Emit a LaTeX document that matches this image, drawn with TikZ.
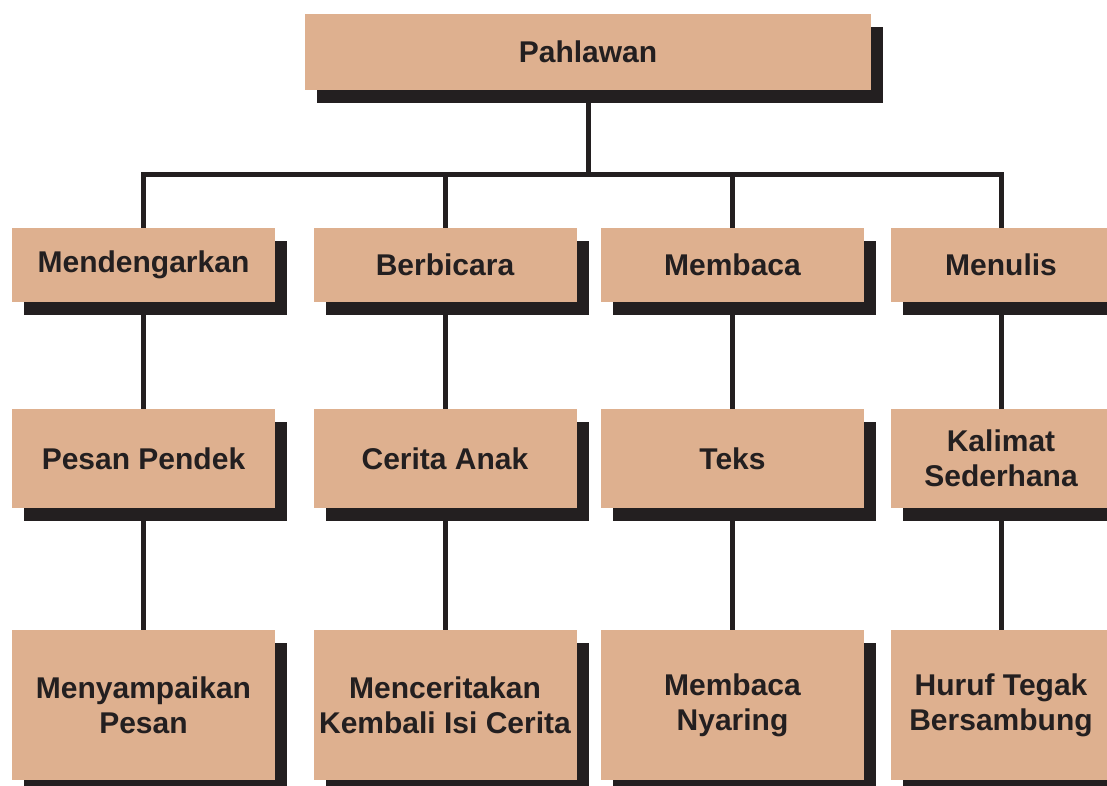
\documentclass[tikz,border=0pt]{standalone}
\usepackage{fontspec}
\setmainfont{Liberation Sans}
\usepackage{xcolor}
\usepackage{tikz}
\usetikzlibrary{shadows}
\definecolor{boxtan}{RGB}{222,176,143}
\definecolor{inkblack}{RGB}{35,31,32}

\begin{document}
\begin{tikzpicture}[x=1pt,y=-1pt,
    box/.style={fill=boxtan, text=inkblack, minimum width=263pt, inner sep=0pt, align=center,
        font=\fontsize{30}{35}\selectfont\bfseries,
        drop shadow={shadow xshift=12pt, shadow yshift=-13pt, fill=inkblack, opacity=1}},
    link/.style={draw=inkblack, line width=5pt, line join=miter}]
    \useasboundingbox (0,0) rectangle (1107,786);

    % Top
    \node [box, minimum width=566pt, minimum height=76pt] (top) at (588,52) {Pahlawan};
    \coordinate (bar) at (588,175);

    % Skills
    \node [box, minimum height=74pt] (dengar) at (143.5,265) {Mendengarkan};
    \node [box, minimum height=74pt] (bicara) at (445,265) {Berbicara};
    \node [box, minimum height=74pt] (baca) at (732.5,265) {Membaca};
    \node [box, minimum height=74pt, minimum width=220pt] (tulis) at (1001,265) {Menulis};

    % Materials
    \node [box, minimum height=99pt] (pesan) at (143.5,458.5) {Pesan Pendek};
    \node [box, minimum height=99pt] (cerita) at (445,458.5) {Cerita Anak};
    \node [box, minimum height=99pt] (teks) at (732.5,458.5) {Teks};
    \node [box, minimum height=99pt, minimum width=220pt] (kalimat) at (1001,458.5) {Kalimat\\Sederhana};

    % Activities
    \node [box, minimum height=150pt] (sampai) at (143.5,705) {Menyampaikan\\Pesan};
    \node [box, minimum height=150pt] (ulang) at (445,705) {Menceritakan\\Kembali Isi Cerita};
    \node [box, minimum height=150pt] (nyaring) at (732.5,705) {Membaca\\Nyaring};
    \node [box, minimum height=150pt, minimum width=220pt] (huruf) at (1001,705) {Huruf Tegak\\Bersambung};

    % Connectors
    \draw [link] (top.south) -- (bar);
    \draw [link] (dengar.north) -- (dengar.north |- bar) -- (tulis.north |- bar) -- (tulis.north);
    \draw [link] (bicara.north) -- (bicara.north |- bar);
    \draw [link] (baca.north) -- (baca.north |- bar);
    \draw [link] (dengar.south) -- (pesan.north);
    \draw [link] (bicara.south) -- (cerita.north);
    \draw [link] (baca.south) -- (teks.north);
    \draw [link] (tulis.south) -- (kalimat.north);
    \draw [link] (pesan.south) -- (sampai.north);
    \draw [link] (cerita.south) -- (ulang.north);
    \draw [link] (teks.south) -- (nyaring.north);
    \draw [link] (kalimat.south) -- (huruf.north);
\end{tikzpicture}
\end{document}
